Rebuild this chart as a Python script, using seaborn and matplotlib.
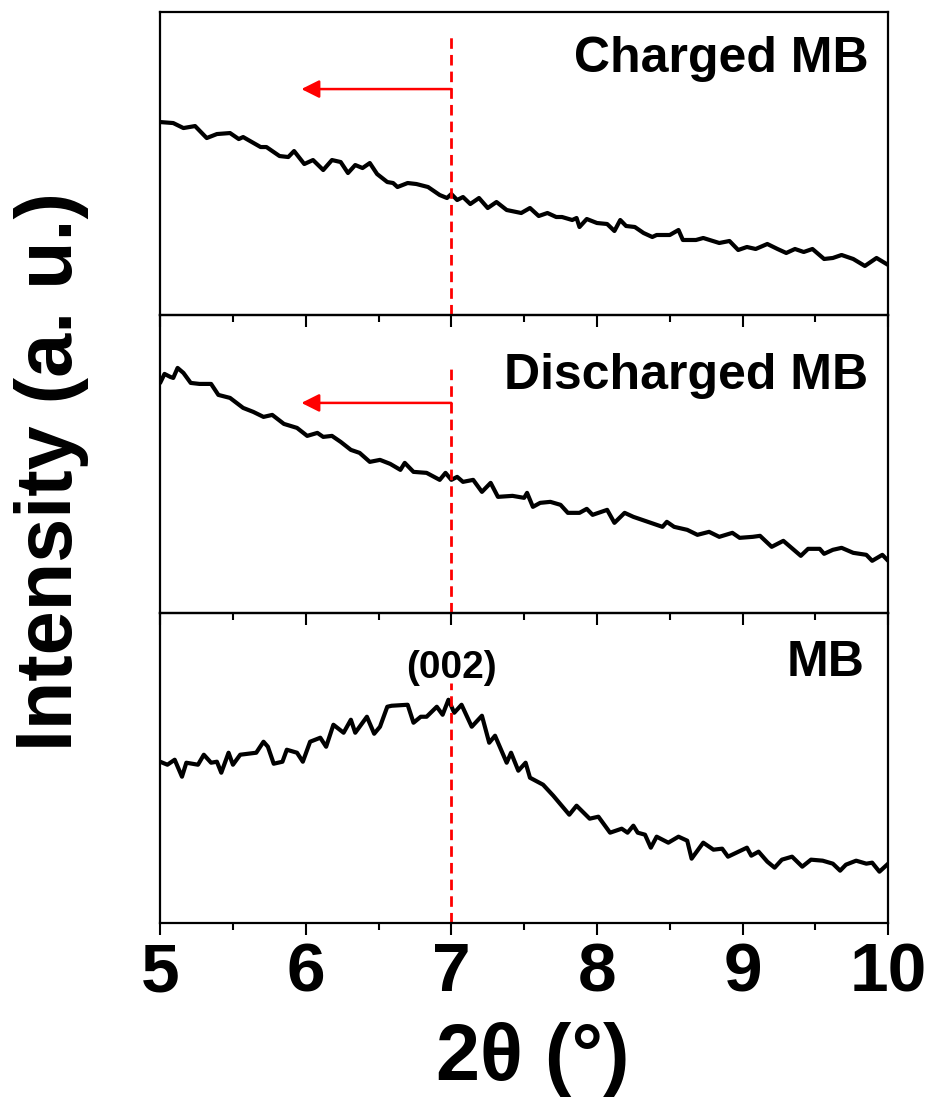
import pandas as pd
import seaborn as sns
import matplotlib.pyplot as plt
from matplotlib.ticker import MultipleLocator

# Charged MB (top panel)
two_theta_charged = [5.00, 5.09, 5.16, 5.24, 5.32, 5.39, 5.48, 5.54, 5.57, 5.69,
                     5.73, 5.82, 5.88, 5.92, 5.99, 6.05, 6.12, 6.18, 6.24, 6.29,
                     6.34, 6.39, 6.44, 6.49, 6.56, 6.60, 6.63, 6.70, 6.76, 6.84,
                     6.92, 6.97, 7.00, 7.04, 7.08, 7.13, 7.19, 7.25, 7.31, 7.38,
                     7.48, 7.54, 7.60, 7.66, 7.72, 7.76, 7.83, 7.86, 7.88, 7.93,
                     8.00, 8.07, 8.12, 8.16, 8.20, 8.26, 8.32, 8.38, 8.41, 8.50,
                     8.56, 8.59, 8.68, 8.73, 8.84, 8.91, 8.97, 9.03, 9.09, 9.17,
                     9.24, 9.30, 9.36, 9.42, 9.48, 9.56, 9.62, 9.68, 9.76, 9.84,
                     9.92, 10.00]
intensity_charged = [193, 192, 187, 189, 177, 181, 182, 176, 178, 168,
                     168, 159, 158, 164, 151, 155, 145, 155, 153, 142,
                     150, 147, 152, 141, 133, 132, 128, 132, 131, 128,
                     120, 117, 121, 115, 118, 111, 117, 107, 113, 105,
                     102, 107, 99, 102, 98, 98, 95, 97, 88, 96,
                     92, 91, 84, 95, 89, 88, 82, 78, 80, 80,
                     85, 75, 75, 77, 72, 74, 65, 68, 66, 71,
                     66, 62, 66, 63, 66, 56, 57, 60, 56, 49,
                     57, 50]

# Discharged MB (middle panel)
two_theta_discharged = [5.00, 5.03, 5.07, 5.09, 5.12, 5.16, 5.21, 5.27, 5.35, 5.40,
                        5.48, 5.57, 5.64, 5.71, 5.77, 5.85, 5.94, 6.01, 6.08, 6.12,
                        6.18, 6.24, 6.31, 6.37, 6.44, 6.51, 6.58, 6.65, 6.68, 6.74,
                        6.83, 6.92, 6.96, 7.00, 7.04, 7.08, 7.15, 7.21, 7.27,
                        7.32, 7.42, 7.50, 7.52, 7.56, 7.61, 7.68, 7.75, 7.80, 7.88,
                        7.93, 7.97, 8.07, 8.12, 8.19, 8.25, 8.35, 8.45, 8.48, 8.53,
                        8.62, 8.69, 8.77, 8.84, 8.93, 8.98, 9.07, 9.12, 9.20, 9.28,
                        9.40, 9.45, 9.53, 9.56, 9.62, 9.68, 9.76, 9.85, 9.89, 9.96,
                        10.00]
intensity_discharged = [230, 239, 236, 235, 245, 240, 230, 229, 229, 218,
                        215, 205, 201, 196, 198, 189, 185, 177, 180, 176,
                        177, 171, 163, 160, 151, 153, 149, 143, 150, 141,
                        140, 133, 140, 133, 136, 131, 133, 121, 130,
                        116, 117, 115, 120, 106, 110, 111, 108, 100, 100,
                        104, 98, 103, 90, 100, 96, 91, 86, 91, 86,
                        83, 78, 81, 76, 80, 75, 76, 77, 66, 72,
                        57, 64, 64, 59, 63, 65, 60, 58, 52, 58,
                        52]

# MB (bottom panel)
two_theta_mb = [5.00, 5.05, 5.10, 5.15, 5.18, 5.26, 5.30, 5.35, 5.39, 5.42,
                5.47, 5.50, 5.55, 5.66, 5.71, 5.74, 5.78, 5.84, 5.87, 5.94,
                5.98, 6.03, 6.10, 6.14, 6.19, 6.26, 6.31, 6.34, 6.42, 6.47,
                6.51, 6.56, 6.59, 6.70, 6.74, 6.79, 6.83, 6.90, 6.94, 6.98,
                7.02, 7.07, 7.14, 7.21, 7.26, 7.30, 7.38, 7.41, 7.46, 7.51,
                7.54, 7.63, 7.70, 7.81, 7.86, 7.95, 8.01, 8.09, 8.17, 8.21,
                8.25, 8.28, 8.33, 8.37, 8.41, 8.49, 8.56, 8.62, 8.65, 8.73,
                8.80, 8.86, 8.90, 9.03, 9.06, 9.11, 9.17, 9.22, 9.27, 9.34,
                9.41, 9.47, 9.55, 9.62, 9.67, 9.71, 9.78, 9.85, 9.89, 9.94,
                10.00]
intensity_mb = [161, 158, 163, 146, 160, 158, 168, 160, 161, 150,
                170, 158, 168, 170, 181, 176, 159, 161, 173, 170,
                161, 181, 185, 176, 198, 190, 203, 190, 206, 189,
                196, 216, 217, 218, 200, 206, 206, 216, 208, 223,
                210, 218, 196, 207, 180, 187, 160, 170, 152, 160,
                145, 138, 127, 108, 117, 104, 106, 90, 94, 90,
                97, 90, 88, 75, 86, 80, 86, 82, 64, 80,
                73, 74, 66, 75, 67, 71, 61, 55, 63, 66,
                56, 63, 62, 59, 52, 58, 62, 59, 60, 51,
                59]

panel_labels = ["Charged MB", "Discharged MB", "MB"]
peak_position = 7.0
peak_label = "(002)"
shift_to = 5.97
arrow_levels = [226, 210]

series = [(two_theta_charged, intensity_charged),
          (two_theta_discharged, intensity_discharged),
          (two_theta_mb, intensity_mb)]

sns.set_style("ticks")
plt.rcParams['font.family'] = ['Liberation Sans', 'DejaVu Sans']
plt.rcParams['font.weight'] = 'bold'
plt.rcParams['text.color'] = 'black'
plt.rcParams['axes.labelcolor'] = 'black'
plt.rcParams['axes.edgecolor'] = 'black'
plt.rcParams['xtick.color'] = 'black'
plt.rcParams['ytick.color'] = 'black'

heights = [303, 298, 310]
fig, axes = plt.subplots(3, 1, figsize=(9.31, 11.01), dpi=100, sharex=True,
                         gridspec_kw=dict(height_ratios=heights, hspace=0))
fig.subplots_adjust(left=0.172, right=0.954, top=0.989, bottom=0.162)

dash_tops = [0.917, 0.839, 0.774]
label_pos = [(0.973, 0.802), (0.973, 0.752), (0.968, 0.797)]

for i, ax in enumerate(axes):
    ax.patch.set_alpha(0)  # let outward ticks of the panel above show through
    ax.set_zorder(3 - i)
    df = pd.DataFrame({"two_theta": series[i][0], "intensity": series[i][1]})
    sns.lineplot(data=df, x="two_theta", y="intensity", ax=ax,
                 color="black", linewidth=3, estimator=None)
    ax.axvline(peak_position, ymin=0, ymax=dash_tops[i], color="red",
               linewidth=2, linestyle=(0, (3.8, 2.2)))
    ax.set_xlim(5, 10)
    ax.set_ylim(0, heights[i])
    ax.set_yticks([])
    ax.set_xticks(range(5, 11))
    ax.xaxis.set_minor_locator(MultipleLocator(0.5))
    ax.tick_params(axis="x", which="major", direction="out", length=8.5,
                   width=1.5, labelsize=50, pad=5)
    ax.tick_params(axis="x", which="minor", direction="out", length=5, width=1.5)
    for sp in ax.spines.values():
        sp.set_linewidth(1.6)
    ax.set_xlabel("")
    ax.set_ylabel("")
    ax.text(label_pos[i][0], label_pos[i][1], panel_labels[i], transform=ax.transAxes,
            ha="right", va="baseline", fontsize=36, fontweight="bold")

for i in range(2):
    axes[i].annotate("", xy=(shift_to, arrow_levels[i]), xytext=(peak_position, arrow_levels[i]),
                     arrowprops=dict(arrowstyle="-|>,head_length=0.6,head_width=0.3",
                                     color="red", lw=1.8, mutation_scale=18,
                                     shrinkA=0, shrinkB=0))

axes[2].text(peak_position, 0.79, peak_label, transform=axes[2].get_xaxis_transform(),
             ha="center", va="baseline", fontsize=28, fontweight="bold")

axes[1].set_ylabel("Intensity (a. u.)", fontsize=57, fontweight="bold")
axes[1].yaxis.set_label_coords(-0.098, 0.473)
axes[2].set_xlabel("2θ (°)", fontsize=57, fontweight="bold")
axes[2].xaxis.set_label_coords(0.512, -0.32)

fig.savefig("out.png", dpi=100)
